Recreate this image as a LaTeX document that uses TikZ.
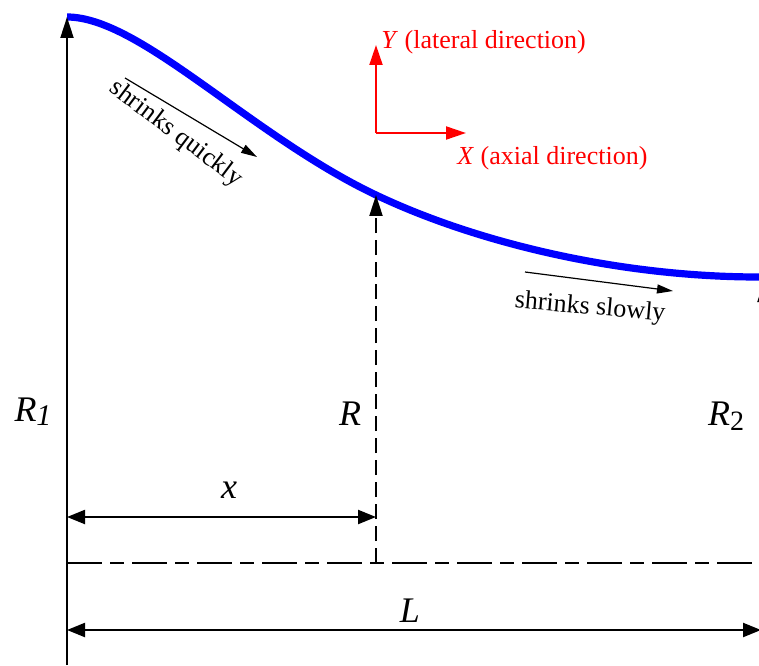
\documentclass[tikz,border=0pt]{standalone}
\usepackage{fontspec}
\setmainfont{Liberation Serif}
\usetikzlibrary{arrows.meta}
\definecolor{curveblue}{HTML}{0000FF}
\definecolor{axisred}{HTML}{FF0000}

\begin{document}
\begin{tikzpicture}[x=0.5pt,y=0.5pt,
  radarrow/.style={line width=1pt,-{Triangle[length=10.5pt,width=6.5pt]}},
  dimline/.style={line width=1.1pt,{Triangle[length=9pt,width=7pt]}-{Triangle[length=9pt,width=7pt]}},
  hintarrow/.style={line width=0.6pt,-{Triangle[length=8pt,width=4.5pt]}},
  redarrow/.style={axisred,line width=1pt,-{Triangle[length=10pt,width=6.5pt]}},
  biglabel/.style={font=\fontsize{18}{20}\selectfont\itshape,inner sep=1pt},
  note/.style={font=\fontsize{13}{15}\selectfont,inner sep=1pt}
]
  \useasboundingbox (0,0) rectangle (759,665);
  \coordinate (base1) at (67,0);
  \coordinate (top) at (67,648);
  \coordinate (mid) at (376,470);
  \coordinate (tail) at (759,388);
  \coordinate (axis1) at (67,102);
  \coordinate (axismid) at (376,102);
  \coordinate (axisend) at (759,102);
  \coordinate (base2) at (764,102);
  \coordinate (tip2) at (764,384);
  \draw[curveblue,line width=3.6pt] (top) .. controls (140,648) and (250,530) .. (mid)
    .. controls (477,422) and (620,388) .. (tail);
  \draw[radarrow] (base1) -- (top);
  \draw[radarrow,dash pattern=on 7.5pt off 3.5pt] (axismid) -- (mid);
  \draw[radarrow] (base2) -- (tip2);
  \draw[line width=1pt,dash pattern=on 17.5pt off 4pt on 7pt off 4pt] (axis1) -- (axisend);
  \coordinate (xa) at (67,148);
  \coordinate (xb) at (376,148);
  \coordinate (la) at (67,35);
  \coordinate (lb) at (761,35);
  \draw[dimline] (xa) -- (xb);
  \draw[dimline] (la) -- (lb);
  \node[biglabel] (rone) at (33,253) {R\raisebox{-0.25ex}{\fontsize{15}{16}\selectfont 1}};
  \node[biglabel] (rmid) at (350,251) {R};
  \node[biglabel] (rtwo) at (726,249) {R\raisebox{-0.3ex}{\fontsize{14}{16}\selectfont\upshape 2}};
  \node[biglabel] (xlab) at (229,175) {x};
  \node[biglabel] (llab) at (410,54) {L};
  \coordinate (orig) at (376,532);
  \coordinate (yend) at (376,620);
  \coordinate (xend) at (466,532);
  \draw[redarrow] (orig) -- (yend);
  \draw[redarrow] (orig) -- (xend);
  \node[note,text=axisred,anchor=west] (ylab) at (379,623) {\textit{Y} (lateral direction)};
  \node[note,text=axisred,anchor=west] (xlab2) at (455,507) {\textit{X} (axial direction)};
  \coordinate (qa) at (125,587);
  \coordinate (qb) at (257,508);
  \draw[hintarrow] (qa) -- (qb);
  \node[note,rotate=-37] (quick) at (176,531) {shrinks quickly};
  \coordinate (sa) at (525,393);
  \coordinate (sb) at (673,374);
  \draw[hintarrow] (sa) -- (sb);
  \node[note,rotate=-5] (slow) at (590,357) {shrinks slowly};
\end{tikzpicture}
\end{document}
